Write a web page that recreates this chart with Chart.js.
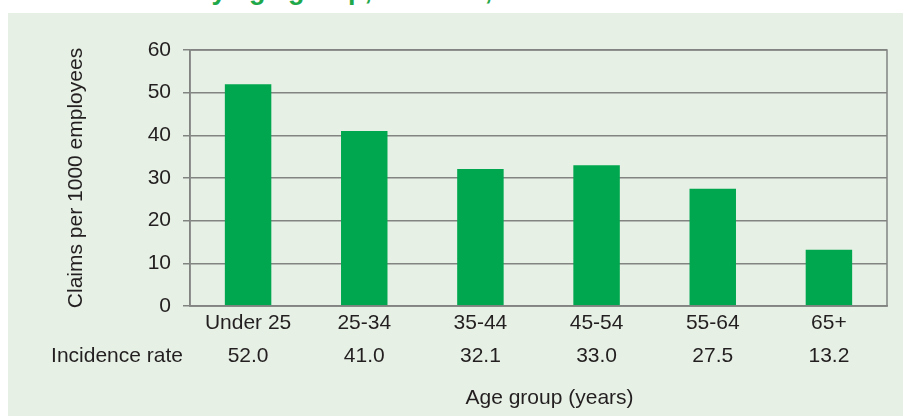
<!DOCTYPE html>
<html>
<head>
<meta charset="utf-8">
<script src="https://cdn.jsdelivr.net/npm/chart.js@4"></script>
<style>
  body { margin: 0; background: #fff; width: 903px; height: 416px; overflow: hidden; position: relative; font-family: 'Liberation Sans', Arial, sans-serif; }
  #title { position: absolute; left: 6px; top: -23px; margin: 0; font-size: 27px; line-height: 27px; font-weight: bold; color: #1fa84a; white-space: nowrap; }
  #panel { position: absolute; left: 8px; top: 13px; width: 895px; height: 403px; background: #e6f0e5; }
</style>
</head>
<body>
<div id="title">Incidence rate by age group, 2014–15, Australia</div>
<div id="panel"><canvas id="chart" width="895" height="403"></canvas></div>
<script>
const ageGroups = ['Under 25', '25-34', '35-44', '45-54', '55-64', '65+'];
const incidenceRate = [52.0, 41.0, 32.1, 33.0, 27.5, 13.2];
const yTicks = [0, 10, 20, 30, 40, 50, 60];

const textColor = '#231f20';
const gridColor = '#828482';
const font = { family: "'Liberation Sans', Arial, sans-serif", size: 21 };
const rowHeight = 33;

// second tick line carries the incidence value under each group
const xLabels = ageGroups.map((g, i) => [g, incidenceRate[i].toFixed(1)]);

const frameAndLabels = {
    id: 'frameAndLabels',
    afterDraw(chart) {
        const ctx = chart.ctx;
        const a = chart.chartArea;
        const x = chart.scales.x;
        ctx.save();
        ctx.strokeStyle = gridColor;
        ctx.lineWidth = 1.5;
        ctx.strokeRect(a.left, a.top, a.right - a.left, a.bottom - a.top);
        ctx.fillStyle = textColor;
        ctx.font = `21px ${font.family}`;
        ctx.textBaseline = 'middle';
        ctx.textAlign = 'right';
        ctx.fillText('Incidence rate', a.left - 7, x.top + 1 + rowHeight * 1.5);
        ctx.textAlign = 'center';
        ctx.fillText('Age group (years)', (a.left + a.right) / 2 + 11, a.bottom + 92);
        ctx.restore();
    }
};

new Chart(document.getElementById('chart'), {
    type: 'bar',
    data: {
        labels: xLabels,
        datasets: [{
            data: incidenceRate,
            backgroundColor: '#00a74e',
            barPercentage: 0.4,
            categoryPercentage: 1
        }]
    },
    options: {
        responsive: false,
        animation: false,
        layout: { padding: { top: 37, right: 16, bottom: 42, left: 0 } },
        plugins: { legend: { display: false }, tooltip: { enabled: false } },
        scales: {
            x: {
                grid: { display: true, drawOnChartArea: false, drawTicks: false },
                border: { color: gridColor, width: 1.5 },
                ticks: { color: textColor, font: { ...font, lineHeight: rowHeight / 21 }, padding: 1, maxRotation: 0 }
            },
            y: {
                min: 0,
                max: 60,
                afterBuildTicks(scale) { scale.ticks = yTicks.map(v => ({ value: v })); },
                afterFit(scale) { scale.width = 182; },
                grid: { color: gridColor, lineWidth: 1.5, tickLength: 7 },
                border: { color: gridColor, width: 1.5 },
                ticks: { color: textColor, font, padding: 12 },
                title: { display: true, text: 'Claims per 1000 employees', color: textColor, font, padding: { top: 56, bottom: 0 } }
            }
        }
    },
    plugins: [frameAndLabels]
});
</script>
</body>
</html>
